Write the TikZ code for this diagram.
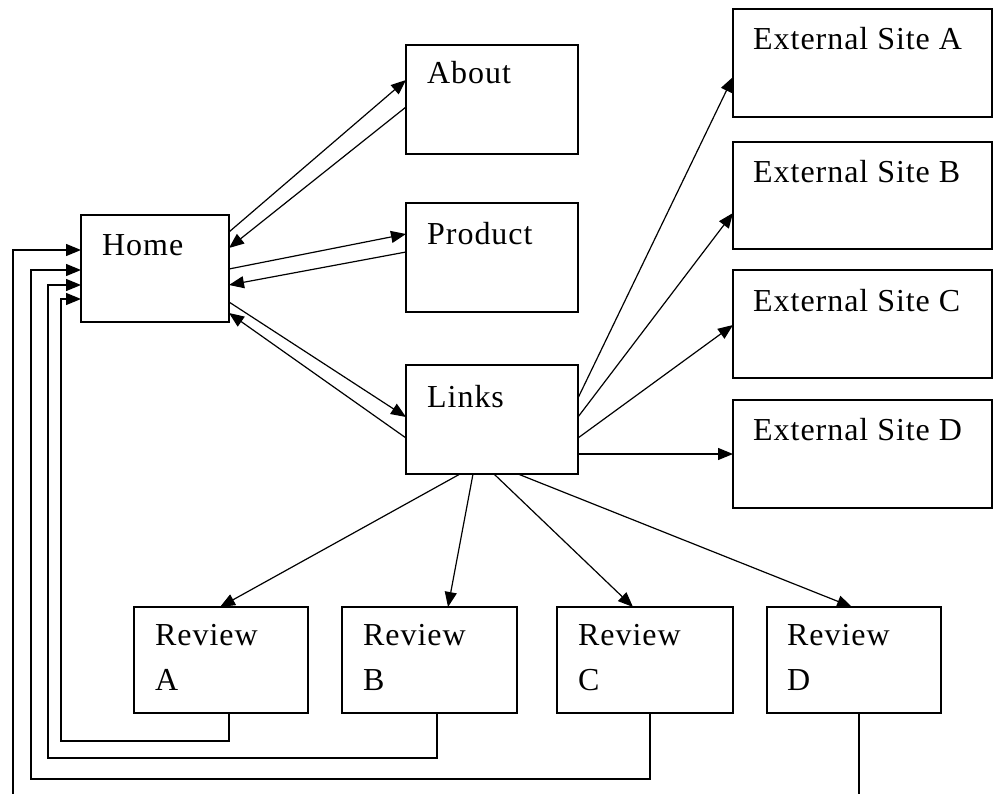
\documentclass[tikz,border=0pt]{standalone}
\usepackage{fontspec}
\setmainfont{Liberation Serif}[LetterSpace=3]
\usetikzlibrary{arrows.meta}
\tikzset{
  box/.style={draw, line width=1.4pt, rectangle, inner sep=0pt, outer sep=0pt, anchor=north west},
  txt/.style={anchor=base west, inner sep=0pt, font=\fontsize{32}{45}\selectfont, align=left},
  arr/.style={line width=1.2pt, -{Triangle[length=15pt,width=12pt]}},
  fb/.style={line width=1.3pt, -{Triangle[length=15pt,width=12pt]}},
  wide/.style={minimum width=172pt, minimum height=109pt},
  ext/.style={minimum width=259pt, minimum height=108pt},
  rev/.style={minimum width=175pt, minimum height=106pt}
}
\begin{document}
\begin{tikzpicture}[x=1pt,y=-1pt]
\useasboundingbox (0,0) rectangle (995,794);
\clip (0,0) rectangle (995,794);
\fill[white] (0,0) rectangle (995,794);
% boxes
\node[box, minimum width=148pt, minimum height=107pt] (home) at (81,215) {};
\node[box, wide] (about) at (406,45) {};
\node[box, wide] (product) at (406,203) {};
\node[box, wide] (links) at (406,365) {};
\node[box, ext] (ea) at (733,9) {};
\node[box, ext, minimum height=107pt] (eb) at (733,142) {};
\node[box, ext] (ec) at (733,270) {};
\node[box, ext] (ed) at (733,400) {};
\node[box, rev, minimum width=174pt] (ra) at (134,607) {};
\node[box, rev] (rb) at (342,607) {};
\node[box, rev, minimum width=176pt] (rc) at (557,607) {};
\node[box, rev, minimum width=174pt] (rd) at (767,607) {};
% texts
\node[txt] (thome) at ([xshift=21pt,yshift=-40pt]home.north west) {Home};
\node[txt] (tabout) at ([xshift=21pt,yshift=-39pt]about.north west) {About};
\node[txt] (tproduct) at ([xshift=21pt,yshift=-41pt]product.north west) {Product};
\node[txt] (tlinks) at ([xshift=21pt,yshift=-42pt]links.north west) {Links};
\node[txt] (tea) at ([xshift=20pt,yshift=-41pt]ea.north west) {External Site A};
\node[txt] (teb) at ([xshift=20pt,yshift=-41pt]eb.north west) {External Site B};
\node[txt] (tec) at ([xshift=20pt,yshift=-41pt]ec.north west) {External Site C};
\node[txt] (ted) at ([xshift=20pt,yshift=-40pt]ed.north west) {External Site D};
\node[txt] (tra) at ([xshift=21pt,yshift=-83pt]ra.north west) {Review\\A};
\node[txt] (trb) at ([xshift=21pt,yshift=-83pt]rb.north west) {Review\\B};
\node[txt] (trc) at ([xshift=21pt,yshift=-83pt]rc.north west) {Review\\C};
\node[txt] (trd) at ([xshift=20pt,yshift=-83pt]rd.north west) {Review\\D};
% home <-> about, product, links
\draw[arr] ([yshift=-17pt]home.north east) -- ([yshift=-35pt]about.north west);
\draw[arr] ([yshift=-62pt]about.north west) -- ([yshift=-33pt]home.north east);
\draw[arr] ([yshift=-54pt]home.north east) -- ([yshift=-31pt]product.north west);
\draw[arr] ([yshift=-49pt]product.north west) -- ([yshift=-70pt]home.north east);
\draw[arr] ([yshift=-87pt]home.north east) -- ([yshift=-52pt]links.north west);
\draw[arr] ([yshift=-73pt]links.north west) -- ([yshift=-98pt]home.north east);
% links -> external
\draw[arr] ([yshift=-33pt]links.north east) -- ([yshift=-68pt]ea.north west);
\draw[arr] ([yshift=-52pt]links.north east) -- ([yshift=-71pt]eb.north west);
\draw[arr] ([yshift=-73pt]links.north east) -- ([yshift=-55pt]ec.north west);
\draw[arr] ([yshift=-89pt]links.north east) -- ([yshift=-54pt]ed.north west);
% links -> reviews
\draw[arr] ([xshift=54pt]links.south west) -- ([xshift=86pt]ra.north west);
\draw[arr] ([xshift=67pt]links.south west) -- ([xshift=106pt]rb.north west);
\draw[arr] ([xshift=88pt]links.south west) -- ([xshift=76pt]rc.north west);
\draw[arr] ([xshift=112pt]links.south west) -- ([xshift=85pt]rd.north west);
% reviews -> home
\draw[fb] ([xshift=95pt]ra.south west) |- (61,741) |- ([yshift=-84pt]home.north west);
\draw[fb] ([xshift=95pt]rb.south west) |- (48,758) |- ([yshift=-70pt]home.north west);
\draw[fb] ([xshift=93pt]rc.south west) |- (31,779) |- ([yshift=-55pt]home.north west);
\draw[fb] ([xshift=92pt]rd.south west) |- (13,805) |- ([yshift=-35pt]home.north west);
\end{tikzpicture}
\end{document}
